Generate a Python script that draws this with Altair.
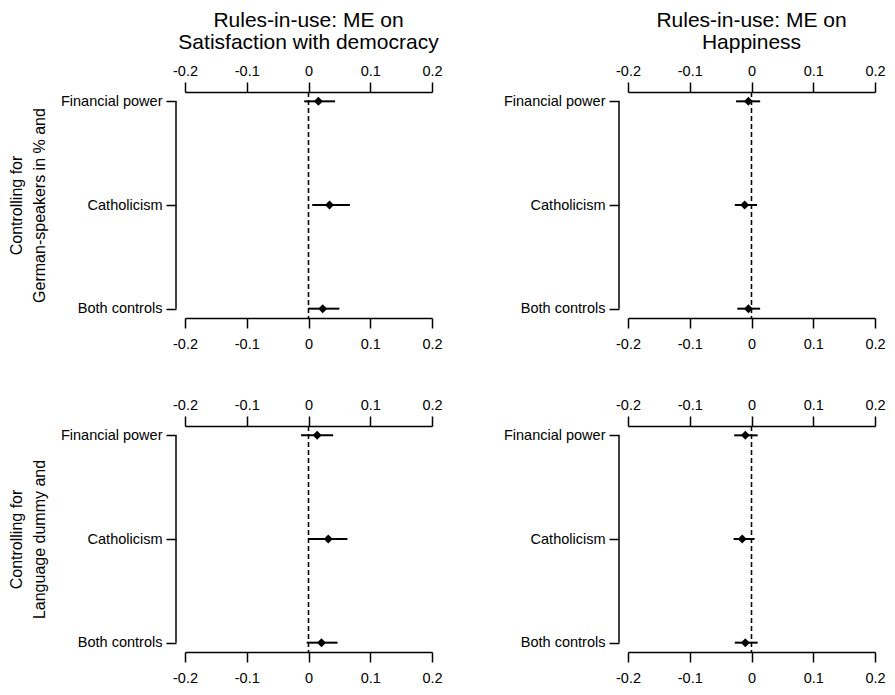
import altair as alt
import pandas as pd

FONT = "Liberation Sans"

categories = ["Financial power", "Catholicism", "Both controls"]
x_ticks = [-0.2, -0.1, 0, 0.1, 0.2]

col_titles = [
    ["Rules-in-use: ME on", "Satisfaction with democracy"],
    ["Rules-in-use: ME on", "Happiness"],
]
row_titles = [
    ["Controlling for", "German-speakers in % and"],
    ["Controlling for", "Language dummy and"],
]

# Top-left: Satisfaction with democracy, German-speakers control
sat_german_est = [0.016, 0.034, 0.023]
sat_german_lo = [-0.007, 0.006, 0.000]
sat_german_hi = [0.043, 0.067, 0.050]

# Top-right: Happiness, German-speakers control
hap_german_est = [-0.005, -0.011, -0.005]
hap_german_lo = [-0.025, -0.027, -0.023]
hap_german_hi = [0.014, 0.009, 0.014]

# Bottom-left: Satisfaction with democracy, language dummy control
sat_lang_est = [0.014, 0.032, 0.021]
sat_lang_lo = [-0.012, 0.000, -0.003]
sat_lang_hi = [0.040, 0.063, 0.047]

# Bottom-right: Happiness, language dummy control
hap_lang_est = [-0.010, -0.015, -0.010]
hap_lang_lo = [-0.028, -0.029, -0.027]
hap_lang_hi = [0.010, 0.005, 0.010]

W, H = 247, 226
LABEL_SIZE = 14.5


def x_axis(orient):
    return alt.Axis(
        orient=orient, values=x_ticks, labelExpr="'' + datum.value",
        grid=False, title=None, domainColor="black", domainWidth=1.5,
        tickColor="black", tickWidth=1.5, tickSize=10,
        labelFont=FONT, labelFontSize=LABEL_SIZE, labelColor="black",
        labelPadding=4 if orient == "top" else 9,
        labelFlush=False, labelOverlap=False,
    )


def panel(est, lo, hi, title=None, row_title=None):
    df = pd.DataFrame({"model": categories, "est": est, "lo": lo, "hi": hi})
    xscale = alt.Scale(domain=[-0.2, 0.2], nice=False, zero=False)
    yscale = alt.Scale(type="point", padding=0.09)

    axis_kw = dict(
        domain=False, grid=False, offset=9, orient="left",
        tickColor="black", tickWidth=1.5, tickSize=10,
        labelFont=FONT, labelFontSize=LABEL_SIZE, labelColor="black",
        labelPadding=4,
    )
    if row_title is not None:
        axis_kw.update(
            title=row_title, titleFont=FONT, titleFontSize=16,
            titleFontWeight="normal", titleColor="black", titlePadding=13,
            titleLineHeight=23,
        )
    else:
        axis_kw.update(title="")
    y_axis = alt.Axis(**axis_kw)

    zero = alt.Chart(df).mark_rule(
        color="black", strokeWidth=1.2, strokeDash=[5, 3]
    ).encode(x=alt.XDatum(0, scale=xscale, axis=None))

    # vertical axis spine from first to last category
    spine = alt.Chart(df).mark_line(color="black", strokeWidth=1.5).encode(
        x=alt.value(-9),
        y=alt.Y("model:N", sort=categories, scale=yscale, axis=y_axis),
    )

    bars = alt.Chart(df).mark_rule(color="black", strokeWidth=2).encode(
        x=alt.X("lo:Q", scale=xscale, axis=x_axis("bottom")),
        x2="hi:Q",
        y=alt.Y("model:N", sort=categories, scale=yscale, axis=y_axis),
    )

    pts = alt.Chart(df).mark_point(
        shape="diamond", filled=True, size=80, color="black", opacity=1
    ).encode(
        x=alt.X("est:Q", scale=xscale, axis=x_axis("top")),
        y=alt.Y("model:N", sort=categories, scale=yscale, axis=y_axis),
    )

    layer = alt.layer(zero, spine, bars, pts).resolve_axis(x="independent")
    props = dict(
        width=W, height=H,
        view=alt.ViewBackground(stroke="transparent", strokeWidth=0, strokeOpacity=0),
    )
    if title is not None:
        props["title"] = alt.TitleParams(
            text=title, font=FONT, fontSize=21, fontWeight="normal",
            color="black", anchor="middle", frame="group", offset=10,
            lineHeight=22,
        )
    return layer.properties(**props)


tl = panel(sat_german_est, sat_german_lo, sat_german_hi, col_titles[0], row_titles[0])
tr = panel(hap_german_est, hap_german_lo, hap_german_hi, col_titles[1], None)
bl = panel(sat_lang_est, sat_lang_lo, sat_lang_hi, None, row_titles[1])
br = panel(hap_lang_est, hap_lang_lo, hap_lang_hi, None, None)

top = alt.hconcat(tl, tr, spacing=60)
bottom = alt.hconcat(bl, br, spacing=60)

chart = (
    alt.vconcat(top, bottom, spacing=46)
    .properties(padding={"left": 0, "top": 2, "right": 0, "bottom": 0})
    .configure_view(strokeWidth=0, stroke="transparent")
    .configure_axis(gridColor="transparent", gridOpacity=0)
    .configure(background="white")
)

chart.save("out.html", embed_options={"renderer": "svg", "actions": False})
